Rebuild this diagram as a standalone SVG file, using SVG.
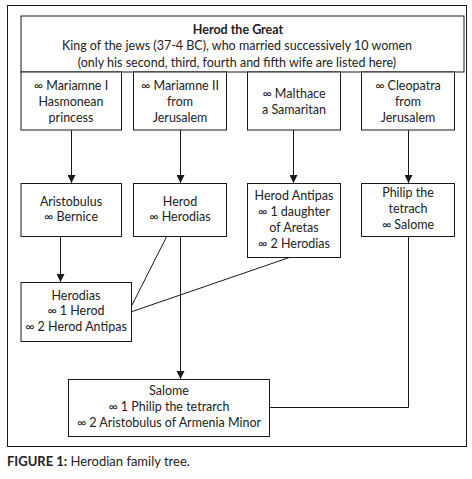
<svg xmlns="http://www.w3.org/2000/svg" width="472" height="479" viewBox="0 0 472 479">
<style>
rect.b{fill:#fff;stroke:#1a1a1a;stroke-width:1}
text{font-family:Lato,"Liberation Sans",sans-serif;font-size:12.5px;fill:#222;text-anchor:middle}
.c{fill:none;stroke:#1a1a1a;stroke-width:1}
</style>
<defs>
<marker id="ar" viewBox="0 0 10 10" refX="10" refY="5" markerWidth="8" markerHeight="8" markerUnits="userSpaceOnUse" orient="auto">
<path d="M0,0L10,5L0,10z" fill="#1a1a1a"/>
</marker>
</defs>
<rect x="7.5" y="5.5" width="459" height="441" fill="#fff" stroke="#1a1a1a" stroke-width="1"/>
<g id="connectors">
<line class="c" x1="71.5" y1="130" x2="71.5" y2="183" marker-end="url(#ar)"/>
<line class="c" x1="180.5" y1="130" x2="180.5" y2="183" marker-end="url(#ar)"/>
<line class="c" x1="293.5" y1="130" x2="293.5" y2="183" marker-end="url(#ar)"/>
<line class="c" x1="408.5" y1="130" x2="408.5" y2="183" marker-end="url(#ar)"/>
<line class="c" x1="60.5" y1="236" x2="60.5" y2="282" marker-end="url(#ar)"/>
<line class="c" x1="166.7" y1="236.5" x2="131.7" y2="305.7"/>
<line class="c" x1="289.3" y1="257.5" x2="131.7" y2="311.7"/>
<line class="c" x1="180.5" y1="236" x2="180.5" y2="379" marker-end="url(#ar)"/>
<polyline class="c" points="408.5,236 408.5,407.5 269.5,407.5"/>
</g>
<g id="herod">
<rect class="b" x="21" y="16" width="443" height="56"/>
<text x="238" y="34" font-weight="bold">Herod the Great</text>
<text x="237" y="50">King of the jews (37-4 BC), who married successively 10 women</text>
<text x="237" y="67">(only his second, third, fourth and fifth wife are listed here)</text>
</g>
<g id="w1">
<rect class="b" x="21" y="72" width="100.5" height="58"/>
<text x="71" y="90">∞ Mariamne I</text>
<text x="71" y="106">Hasmonean</text>
<text x="71" y="122">princess</text>
</g>
<g id="w2">
<rect class="b" x="133.5" y="72" width="93" height="58"/>
<text x="180" y="90">∞ Mariamne II</text>
<text x="180" y="106">from</text>
<text x="180" y="122">Jerusalem</text>
</g>
<g id="w3">
<rect class="b" x="247.5" y="72" width="93" height="58"/>
<text x="294" y="98">∞ Malthace</text>
<text x="294" y="114">a Samaritan</text>
</g>
<g id="w4">
<rect class="b" x="361.5" y="72" width="93" height="58"/>
<text x="408" y="90">∞ Cleopatra</text>
<text x="408" y="106">from</text>
<text x="408" y="122">Jerusalem</text>
</g>
<g id="aristobulus">
<rect class="b" x="21" y="183.5" width="100.5" height="53"/>
<text x="71" y="205.5">Aristobulus</text>
<text x="71" y="221">∞ Bernice</text>
</g>
<g id="herod2">
<rect class="b" x="133.5" y="183.5" width="93" height="53"/>
<text x="180" y="205.5">Herod</text>
<text x="180" y="221">∞ Herodias</text>
</g>
<g id="antipas">
<rect class="b" x="247.5" y="183.5" width="93" height="74"/>
<text x="294" y="200">Herod Antipas</text>
<text x="294" y="216">∞ 1 daughter</text>
<text x="294" y="232">of Aretas</text>
<text x="294" y="248">∞ 2 Herodias</text>
</g>
<g id="philip">
<rect class="b" x="361.5" y="183.5" width="93" height="53"/>
<text x="408" y="197">Philip the</text>
<text x="408" y="213">tetrach</text>
<text x="408" y="229">∞ Salome</text>
</g>
<g id="herodias">
<rect class="b" x="21" y="282.5" width="110.5" height="59"/>
<text x="76" y="299.5">Herodias</text>
<text x="76" y="315">∞ 1 Herod</text>
<text x="76" y="331">∞ 2 Herod Antipas</text>
</g>
<g id="salome">
<rect class="b" x="68.5" y="379.5" width="201" height="57"/>
<text x="169" y="395">Salome</text>
<text x="169" y="411">∞ 1 Philip the tetrarch</text>
<text x="169" y="427">∞ 2 Aristobulus of Armenia Minor</text>
</g>
<text x="7" y="466" style="text-anchor:start;font-size:13px"><tspan font-weight="bold">FIGURE 1:</tspan> Herodian family tree.</text>
</svg>
